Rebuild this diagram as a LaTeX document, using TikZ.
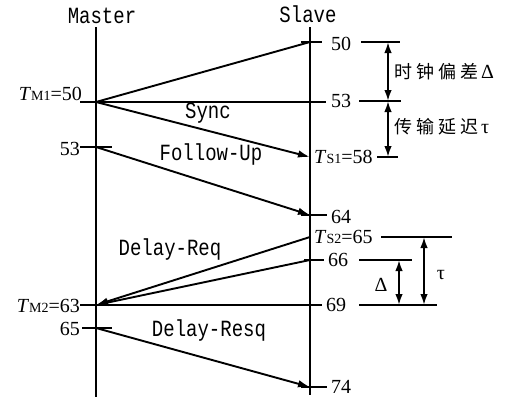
\documentclass[tikz,border=0pt]{standalone}
\usepackage{fontspec}
\usepackage{graphicx}
\setmainfont{Liberation Serif}
\newfontfamily\monof{Liberation Mono}
\newfontfamily\cjk{Noto Sans CJK SC}[LetterSpace=22]
\usetikzlibrary{arrows.meta}
\newcommand{\mlab}[1]{\scalebox{1}[1.22]{\monof\fontsize{19}{19}\selectfont #1}}
\newcommand{\sbs}[1]{{\fontsize{14}{14}\selectfont #1}}
\tikzset{
  ln/.style={line width=1.9pt},
  arr/.style={ln,-{Latex[length=12pt,width=7.5pt]}},
  darr/.style={ln,{Latex[length=11pt,width=7.5pt]}-{Latex[length=11pt,width=7.5pt]}},
  numl/.style={inner sep=0pt,font=\fontsize{20}{20}\selectfont},
  txt/.style={inner sep=0pt}
}
\begin{document}
\begin{tikzpicture}[x=1pt,y=-1pt]
\useasboundingbox (0,0) rectangle (528,415);
% axes
\coordinate (MT) at (96,27);   \coordinate (MB) at (96,397);
\coordinate (ST) at (310,27);  \coordinate (SB) at (310,395);
\draw[ln] (MT) -- (MB);
\draw[ln] (ST) -- (SB);
\node[txt] (master) at (102,16) {\mlab{Master}};
\node[txt] (slave) at (308,14) {\mlab{Slave}};

% master points
\coordinate (M50) at (96,102);
\coordinate (M53) at (96,147);
\coordinate (M63) at (96,305);
\coordinate (M65) at (96,328);
% slave points
\coordinate (S50) at (310,42);
\coordinate (S58) at (310,157);
\coordinate (S64) at (310,215);
\coordinate (S65) at (310,237);
\coordinate (S66) at (310,260);
\coordinate (S74) at (310,387);

% horizontal lines / ticks
\coordinate (h53L) at (80,102);  \coordinate (h53R) at (326,102);
\coordinate (h69L) at (80,305);  \coordinate (h69R) at (322,305);
\coordinate (t53a) at (80,147);  \coordinate (t53b) at (112,147);
\coordinate (t65a) at (82,328);  \coordinate (t65b) at (112,328);
\coordinate (t50a) at (301,42);  \coordinate (t50b) at (322,42);
\coordinate (t64a) at (301,215); \coordinate (t64b) at (327,215);
\coordinate (t66a) at (304,260); \coordinate (t66b) at (324,260);
\coordinate (t74a) at (301,387); \coordinate (t74b) at (327,387);
\draw[ln] (h53L) -- (h53R);
\draw[ln] (h69L) -- (h69R);
\draw[ln] (t53a) -- (t53b);
\draw[ln] (t65a) -- (t65b);
\draw[ln] (t50a) -- (t50b);
\draw[ln] (t64a) -- (t64b);
\draw[ln] (t66a) -- (t66b);
\draw[ln] (t74a) -- (t74b);

% master labels
\node[numl,anchor=base east] (lTM1) at (82,100) {\textit{T}\sbs{M1}=50};
\node[numl,anchor=east] (lM53) at (80,149) {53};
\node[numl,anchor=east] (lTM2) at (80,306) {\textit{T}\sbs{M2}=63};
\node[numl,anchor=east] (lM65) at (80,329) {65};
% slave labels
\node[numl,anchor=west] (lS50) at (331,44) {50};
\node[numl,anchor=west] (lS53) at (331,101) {53};
\node[numl,anchor=west] (lTS1) at (314,157) {\textit{T}\sbs{S1}=58};
\node[numl,anchor=west] (lS64) at (331,217) {64};
\node[numl,anchor=west] (lTS2) at (314,237) {\textit{T}\sbs{S2}=65};
\node[numl,anchor=west] (lS66) at (328,260) {66};
\node[numl,anchor=west] (lS69) at (326,305) {69};
\node[numl,anchor=west] (lS74) at (331,387) {74};

% messages
\draw[ln] (M50) -- (S50);
\draw[arr] (M50) -- (S58);
\draw[arr] (M53) -- (S64);
\draw[arr] (S65) -- (M63);
\draw[arr] (S66) -- (M63);
\draw[arr] (M65) -- (S74);
\node[txt] (sync) at (208,113) {\mlab{Sync}};
\node[txt] (fu) at (211,155) {\mlab{Follow-Up}};
\node[txt] (dreq) at (170,250) {\mlab{Delay-Req}};
\node[txt] (dres) at (209,331) {\mlab{Delay-Resq}};

% right bars
\coordinate (r50a) at (361,42);  \coordinate (r50b) at (400,42);
\coordinate (r53a) at (359,101); \coordinate (r53b) at (401,101);
\coordinate (r58a) at (377,157); \coordinate (r58b) at (398,157);
\coordinate (r65a) at (381,237); \coordinate (r65b) at (452,237);
\coordinate (r66a) at (359,260); \coordinate (r66b) at (412,260);
\coordinate (r69a) at (359,305); \coordinate (r69b) at (437,305);
\draw[ln] (r50a) -- (r50b);
\draw[ln] (r53a) -- (r53b);
\draw[ln] (r58a) -- (r58b);
\draw[ln] (r65a) -- (r65b);
\draw[ln] (r66a) -- (r66b);
\draw[ln] (r69a) -- (r69b);

% double arrows
\coordinate (d1a) at (388,42);  \coordinate (d1b) at (388,101);
\coordinate (d2a) at (388,101); \coordinate (d2b) at (388,157);
\coordinate (d3a) at (399,260); \coordinate (d3b) at (399,305);
\coordinate (d4a) at (424,237); \coordinate (d4b) at (424,305);
\draw[darr] (d1a) -- (d1b);
\draw[darr] (d2a) -- (d2b);
\draw[darr] (d3a) -- (d3b);
\draw[darr] (d4a) -- (d4b);
\node[txt,anchor=west] (skew) at (394,72) {\cjk\fontsize{18}{18}\selectfont 时钟偏差\hspace{3pt}{\rmfamily\fontsize{20}{20}\selectfont Δ}};
\node[txt,anchor=west] (delay) at (394,127) {\cjk\fontsize{18}{18}\selectfont 传输延迟\hspace{3pt}{\rmfamily\fontsize{20}{20}\selectfont τ}};
\node[txt] (dlt) at (381,285) {\fontsize{20}{20}\selectfont Δ};
\node[txt] (tau) at (441,275) {\fontsize{20}{20}\selectfont τ};
\end{tikzpicture}
\end{document}
